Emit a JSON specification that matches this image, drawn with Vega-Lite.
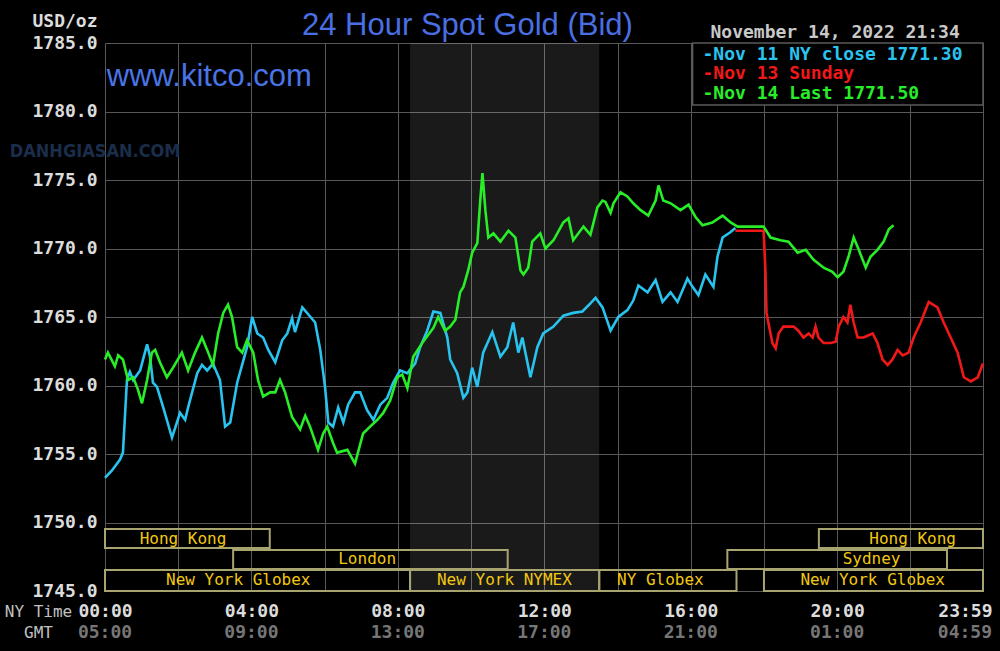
{
  "$schema": "https://vega.github.io/schema/vega-lite/v6.json",
  "width": 878,
  "height": 548,
  "autosize": "none",
  "padding": {"left": 105, "top": 43, "right": 17, "bottom": 60},
  "background": "#000000",
  "config": {"view": {"stroke": null}},
  "datasets": {
    "shade": [{"start": 8.333, "end": 13.5}],
    "notes": [
      {"k": "title", "t": "24 Hour Spot Gold (Bid)"},
      {"k": "l1", "t": "-Nov 11 NY close 1771.30"},
      {"k": "l2", "t": "-Nov 13 Sunday"},
      {"k": "l3", "t": "-Nov 14 Last 1771.50"},
      {"k": "date", "t": "November 14, 2022 21:34"},
      {"k": "site", "t": "www.kitco.com"},
      {"k": "wm", "t": "DANHGIASAN.COM"}
    ],
    "gmt": [
      {"h": 0, "t": "05:00"}, {"h": 4, "t": "09:00"}, {"h": 8, "t": "13:00"}, {"h": 12, "t": "17:00"},
      {"h": 16, "t": "21:00"}, {"h": 20, "t": "01:00"}, {"h": 23.9833, "t": "04:59"}
    ],
    "sessions": [
      {"row": 1, "name": "Hong Kong", "start": 0, "end": 4.5, "lx": 2.13},
      {"row": 1, "name": "Hong Kong", "start": 19.5, "end": 23.9833, "lx": 22.06},
      {"row": 2, "name": "London", "start": 3.5, "end": 11, "lx": 7.16},
      {"row": 2, "name": "Sydney", "start": 17, "end": 23, "lx": 20.94},
      {"row": 3, "name": "New York Globex", "start": 0, "end": 8.333, "lx": 3.64},
      {"row": 3, "name": "New York NYMEX", "start": 8.333, "end": 13.5, "lx": 10.91},
      {"row": 3, "name": "NY Globex", "start": 13.5, "end": 17.25, "lx": 15.17},
      {"row": 3, "name": "New York Globex", "start": 18, "end": 23.9833, "lx": 20.97}
    ],
    "gold": [
      {"s":"Nov 11","h":0,"v":1753.25},{"s":"Nov 11","h":0.19,"v":1753.8},{"s":"Nov 11","h":0.41,"v":1754.6},{"s":"Nov 11","h":0.49,"v":1755.1},{"s":"Nov 11","h":0.55,"v":1758},{"s":"Nov 11","h":0.6,"v":1760.4},{"s":"Nov 11","h":0.68,"v":1761},{"s":"Nov 11","h":0.77,"v":1760.4},{"s":"Nov 11","h":0.96,"v":1761.1},{"s":"Nov 11","h":1.15,"v":1763},{"s":"Nov 11","h":1.23,"v":1762.1},{"s":"Nov 11","h":1.31,"v":1760.2},{"s":"Nov 11","h":1.42,"v":1759.9},{"s":"Nov 11","h":1.59,"v":1758.4},{"s":"Nov 11","h":1.83,"v":1756.2},{"s":"Nov 11","h":2.05,"v":1758},{"s":"Nov 11","h":2.19,"v":1757.5},{"s":"Nov 11","h":2.27,"v":1758.4},{"s":"Nov 11","h":2.52,"v":1760.9},{"s":"Nov 11","h":2.65,"v":1761.5},{"s":"Nov 11","h":2.79,"v":1761.1},{"s":"Nov 11","h":2.95,"v":1761.6},{"s":"Nov 11","h":3.14,"v":1760.4},{"s":"Nov 11","h":3.28,"v":1757},{"s":"Nov 11","h":3.42,"v":1757.3},{"s":"Nov 11","h":3.61,"v":1760.2},{"s":"Nov 11","h":3.88,"v":1762.8},{"s":"Nov 11","h":4.02,"v":1765},{"s":"Nov 11","h":4.16,"v":1763.8},{"s":"Nov 11","h":4.32,"v":1763.5},{"s":"Nov 11","h":4.46,"v":1762.6},{"s":"Nov 11","h":4.65,"v":1761.7},{"s":"Nov 11","h":4.84,"v":1763.3},{"s":"Nov 11","h":4.98,"v":1763.8},{"s":"Nov 11","h":5.11,"v":1764.9},{"s":"Nov 11","h":5.19,"v":1763.9},{"s":"Nov 11","h":5.39,"v":1765.7},{"s":"Nov 11","h":5.55,"v":1765.2},{"s":"Nov 11","h":5.74,"v":1764.6},{"s":"Nov 11","h":5.88,"v":1762.6},{"s":"Nov 11","h":6.01,"v":1759.9},{"s":"Nov 11","h":6.1,"v":1757.3},{"s":"Nov 11","h":6.23,"v":1757},{"s":"Nov 11","h":6.37,"v":1758.4},{"s":"Nov 11","h":6.51,"v":1757.3},{"s":"Nov 11","h":6.64,"v":1758.6},{"s":"Nov 11","h":6.83,"v":1759.5},{"s":"Nov 11","h":6.97,"v":1759.5},{"s":"Nov 11","h":7.16,"v":1758.2},{"s":"Nov 11","h":7.33,"v":1757.5},{"s":"Nov 11","h":7.52,"v":1758.6},{"s":"Nov 11","h":7.71,"v":1759.1},{"s":"Nov 11","h":7.87,"v":1760.2},{"s":"Nov 11","h":8.06,"v":1761.1},{"s":"Nov 11","h":8.26,"v":1760.9},{"s":"Nov 11","h":8.47,"v":1761.6},{"s":"Nov 11","h":8.61,"v":1762.8},{"s":"Nov 11","h":8.8,"v":1764},{"s":"Nov 11","h":8.97,"v":1765.4},{"s":"Nov 11","h":9.16,"v":1765.3},{"s":"Nov 11","h":9.35,"v":1763.5},{"s":"Nov 11","h":9.43,"v":1761.9},{"s":"Nov 11","h":9.62,"v":1760.9},{"s":"Nov 11","h":9.79,"v":1759.1},{"s":"Nov 11","h":9.9,"v":1759.5},{"s":"Nov 11","h":10.03,"v":1761.3},{"s":"Nov 11","h":10.17,"v":1759.9},{"s":"Nov 11","h":10.33,"v":1762.4},{"s":"Nov 11","h":10.58,"v":1763.9},{"s":"Nov 11","h":10.8,"v":1762.1},{"s":"Nov 11","h":10.99,"v":1762.8},{"s":"Nov 11","h":11.15,"v":1764.6},{"s":"Nov 11","h":11.29,"v":1762.4},{"s":"Nov 11","h":11.4,"v":1763.5},{"s":"Nov 11","h":11.62,"v":1760.6},{"s":"Nov 11","h":11.81,"v":1762.8},{"s":"Nov 11","h":11.97,"v":1763.8},{"s":"Nov 11","h":12.25,"v":1764.3},{"s":"Nov 11","h":12.52,"v":1765.1},{"s":"Nov 11","h":12.79,"v":1765.3},{"s":"Nov 11","h":13.04,"v":1765.4},{"s":"Nov 11","h":13.26,"v":1766},{"s":"Nov 11","h":13.4,"v":1766.4},{"s":"Nov 11","h":13.59,"v":1765.7},{"s":"Nov 11","h":13.81,"v":1764},{"s":"Nov 11","h":14.02,"v":1765},{"s":"Nov 11","h":14.27,"v":1765.5},{"s":"Nov 11","h":14.43,"v":1766.2},{"s":"Nov 11","h":14.57,"v":1767.3},{"s":"Nov 11","h":14.82,"v":1766.8},{"s":"Nov 11","h":15.04,"v":1767.7},{"s":"Nov 11","h":15.23,"v":1766.1},{"s":"Nov 11","h":15.45,"v":1766.8},{"s":"Nov 11","h":15.64,"v":1766.1},{"s":"Nov 11","h":15.91,"v":1767.8},{"s":"Nov 11","h":16.05,"v":1767.2},{"s":"Nov 11","h":16.21,"v":1766.6},{"s":"Nov 11","h":16.4,"v":1768.1},{"s":"Nov 11","h":16.62,"v":1767.2},{"s":"Nov 11","h":16.73,"v":1769.4},{"s":"Nov 11","h":16.87,"v":1770.8},{"s":"Nov 11","h":17.09,"v":1771.2},{"s":"Nov 11","h":17.22,"v":1771.5},
      {"s":"Nov 13","h":17.22,"v":1771.3},{"s":"Nov 13","h":17.99,"v":1771.3},{"s":"Nov 13","h":18.04,"v":1768.4},{"s":"Nov 13","h":18.07,"v":1765.3},{"s":"Nov 13","h":18.12,"v":1764.6},{"s":"Nov 13","h":18.23,"v":1763.1},{"s":"Nov 13","h":18.32,"v":1762.7},{"s":"Nov 13","h":18.4,"v":1763.8},{"s":"Nov 13","h":18.53,"v":1764.3},{"s":"Nov 13","h":18.81,"v":1764.3},{"s":"Nov 13","h":18.94,"v":1764},{"s":"Nov 13","h":19.08,"v":1763.5},{"s":"Nov 13","h":19.22,"v":1763.8},{"s":"Nov 13","h":19.33,"v":1763.5},{"s":"Nov 13","h":19.41,"v":1764.3},{"s":"Nov 13","h":19.49,"v":1763.5},{"s":"Nov 13","h":19.63,"v":1763.1},{"s":"Nov 13","h":19.82,"v":1763.1},{"s":"Nov 13","h":19.96,"v":1763.2},{"s":"Nov 13","h":20.04,"v":1764.3},{"s":"Nov 13","h":20.17,"v":1765},{"s":"Nov 13","h":20.28,"v":1764.6},{"s":"Nov 13","h":20.36,"v":1765.9},{"s":"Nov 13","h":20.45,"v":1764.6},{"s":"Nov 13","h":20.56,"v":1763.5},{"s":"Nov 13","h":20.72,"v":1763.5},{"s":"Nov 13","h":20.97,"v":1763.8},{"s":"Nov 13","h":21.1,"v":1763.1},{"s":"Nov 13","h":21.24,"v":1761.9},{"s":"Nov 13","h":21.38,"v":1761.5},{"s":"Nov 13","h":21.51,"v":1761.9},{"s":"Nov 13","h":21.65,"v":1762.6},{"s":"Nov 13","h":21.79,"v":1762.2},{"s":"Nov 13","h":21.95,"v":1762.4},{"s":"Nov 13","h":22.09,"v":1763.5},{"s":"Nov 13","h":22.28,"v":1764.6},{"s":"Nov 13","h":22.5,"v":1766.1},{"s":"Nov 13","h":22.74,"v":1765.7},{"s":"Nov 13","h":22.91,"v":1764.6},{"s":"Nov 13","h":23.1,"v":1763.5},{"s":"Nov 13","h":23.29,"v":1762.4},{"s":"Nov 13","h":23.46,"v":1760.6},{"s":"Nov 13","h":23.65,"v":1760.3},{"s":"Nov 13","h":23.84,"v":1760.6},{"s":"Nov 13","h":23.98,"v":1761.6},
      {"s":"Nov 14","h":0,"v":1761.9},{"s":"Nov 14","h":0.08,"v":1762.4},{"s":"Nov 14","h":0.27,"v":1761.4},{"s":"Nov 14","h":0.36,"v":1762.2},{"s":"Nov 14","h":0.49,"v":1761.9},{"s":"Nov 14","h":0.63,"v":1760.4},{"s":"Nov 14","h":0.77,"v":1760.6},{"s":"Nov 14","h":0.9,"v":1759.7},{"s":"Nov 14","h":1.01,"v":1758.7},{"s":"Nov 14","h":1.15,"v":1760.4},{"s":"Nov 14","h":1.28,"v":1762.4},{"s":"Nov 14","h":1.37,"v":1762.6},{"s":"Nov 14","h":1.5,"v":1761.7},{"s":"Nov 14","h":1.69,"v":1760.6},{"s":"Nov 14","h":1.86,"v":1761.3},{"s":"Nov 14","h":2.1,"v":1762.4},{"s":"Nov 14","h":2.27,"v":1761.1},{"s":"Nov 14","h":2.46,"v":1762.4},{"s":"Nov 14","h":2.65,"v":1763.5},{"s":"Nov 14","h":2.79,"v":1762.6},{"s":"Nov 14","h":2.95,"v":1761.5},{"s":"Nov 14","h":3.09,"v":1763.8},{"s":"Nov 14","h":3.23,"v":1765.3},{"s":"Nov 14","h":3.36,"v":1765.9},{"s":"Nov 14","h":3.47,"v":1765},{"s":"Nov 14","h":3.61,"v":1762.8},{"s":"Nov 14","h":3.75,"v":1762.4},{"s":"Nov 14","h":3.88,"v":1763.3},{"s":"Nov 14","h":4.05,"v":1762.4},{"s":"Nov 14","h":4.18,"v":1760.4},{"s":"Nov 14","h":4.32,"v":1759.2},{"s":"Nov 14","h":4.51,"v":1759.5},{"s":"Nov 14","h":4.65,"v":1759.5},{"s":"Nov 14","h":4.78,"v":1760.4},{"s":"Nov 14","h":4.92,"v":1759.5},{"s":"Nov 14","h":5.11,"v":1757.7},{"s":"Nov 14","h":5.33,"v":1756.8},{"s":"Nov 14","h":5.47,"v":1757.8},{"s":"Nov 14","h":5.6,"v":1757},{"s":"Nov 14","h":5.82,"v":1755.3},{"s":"Nov 14","h":5.96,"v":1756.5},{"s":"Nov 14","h":6.07,"v":1757},{"s":"Nov 14","h":6.23,"v":1755.8},{"s":"Nov 14","h":6.34,"v":1755.1},{"s":"Nov 14","h":6.62,"v":1755.3},{"s":"Nov 14","h":6.83,"v":1754.3},{"s":"Nov 14","h":7.05,"v":1756.5},{"s":"Nov 14","h":7.24,"v":1757},{"s":"Nov 14","h":7.44,"v":1757.5},{"s":"Nov 14","h":7.6,"v":1758},{"s":"Nov 14","h":7.79,"v":1758.9},{"s":"Nov 14","h":7.98,"v":1760.6},{"s":"Nov 14","h":8.12,"v":1760.8},{"s":"Nov 14","h":8.26,"v":1759.8},{"s":"Nov 14","h":8.42,"v":1762.1},{"s":"Nov 14","h":8.69,"v":1763.2},{"s":"Nov 14","h":8.97,"v":1764.2},{"s":"Nov 14","h":9.1,"v":1765},{"s":"Nov 14","h":9.29,"v":1764},{"s":"Nov 14","h":9.43,"v":1764.3},{"s":"Nov 14","h":9.57,"v":1764.8},{"s":"Nov 14","h":9.7,"v":1766.8},{"s":"Nov 14","h":9.79,"v":1767.2},{"s":"Nov 14","h":9.92,"v":1768.4},{"s":"Nov 14","h":10.03,"v":1769.7},{"s":"Nov 14","h":10.17,"v":1770.4},{"s":"Nov 14","h":10.25,"v":1773.5},{"s":"Nov 14","h":10.31,"v":1775.5},{"s":"Nov 14","h":10.39,"v":1772.8},{"s":"Nov 14","h":10.47,"v":1770.8},{"s":"Nov 14","h":10.61,"v":1771.1},{"s":"Nov 14","h":10.8,"v":1770.5},{"s":"Nov 14","h":11.02,"v":1771.3},{"s":"Nov 14","h":11.21,"v":1770.8},{"s":"Nov 14","h":11.35,"v":1768.4},{"s":"Nov 14","h":11.43,"v":1768.1},{"s":"Nov 14","h":11.56,"v":1768.6},{"s":"Nov 14","h":11.67,"v":1770.5},{"s":"Nov 14","h":11.89,"v":1771.1},{"s":"Nov 14","h":12.03,"v":1770},{"s":"Nov 14","h":12.25,"v":1770.6},{"s":"Nov 14","h":12.52,"v":1771.9},{"s":"Nov 14","h":12.66,"v":1772.2},{"s":"Nov 14","h":12.79,"v":1770.6},{"s":"Nov 14","h":13.07,"v":1771.6},{"s":"Nov 14","h":13.26,"v":1771},{"s":"Nov 14","h":13.45,"v":1773},{"s":"Nov 14","h":13.59,"v":1773.5},{"s":"Nov 14","h":13.67,"v":1773.4},{"s":"Nov 14","h":13.81,"v":1772.6},{"s":"Nov 14","h":13.89,"v":1773.3},{"s":"Nov 14","h":14.08,"v":1774.1},{"s":"Nov 14","h":14.27,"v":1773.8},{"s":"Nov 14","h":14.43,"v":1773.3},{"s":"Nov 14","h":14.63,"v":1772.8},{"s":"Nov 14","h":14.84,"v":1772.4},{"s":"Nov 14","h":15.04,"v":1773.5},{"s":"Nov 14","h":15.12,"v":1774.6},{"s":"Nov 14","h":15.25,"v":1773.5},{"s":"Nov 14","h":15.45,"v":1773.3},{"s":"Nov 14","h":15.72,"v":1772.8},{"s":"Nov 14","h":15.94,"v":1773.2},{"s":"Nov 14","h":16.13,"v":1772.3},{"s":"Nov 14","h":16.32,"v":1771.7},{"s":"Nov 14","h":16.59,"v":1771.9},{"s":"Nov 14","h":16.87,"v":1772.4},{"s":"Nov 14","h":17.09,"v":1771.9},{"s":"Nov 14","h":17.28,"v":1771.6},{"s":"Nov 14","h":17.99,"v":1771.6},{"s":"Nov 14","h":18.18,"v":1770.8},{"s":"Nov 14","h":18.45,"v":1770.6},{"s":"Nov 14","h":18.67,"v":1770.5},{"s":"Nov 14","h":18.92,"v":1769.7},{"s":"Nov 14","h":19.14,"v":1769.9},{"s":"Nov 14","h":19.35,"v":1769.2},{"s":"Nov 14","h":19.63,"v":1768.6},{"s":"Nov 14","h":19.87,"v":1768.3},{"s":"Nov 14","h":20.01,"v":1767.9},{"s":"Nov 14","h":20.17,"v":1768.3},{"s":"Nov 14","h":20.31,"v":1769.4},{"s":"Nov 14","h":20.45,"v":1770.8},{"s":"Nov 14","h":20.59,"v":1769.9},{"s":"Nov 14","h":20.78,"v":1768.6},{"s":"Nov 14","h":20.91,"v":1769.4},{"s":"Nov 14","h":21.1,"v":1769.9},{"s":"Nov 14","h":21.27,"v":1770.5},{"s":"Nov 14","h":21.41,"v":1771.4},{"s":"Nov 14","h":21.54,"v":1771.7}
    ]
  },
  "layer": [
    {
      "data": {"name": "shade"},
      "mark": {"type": "rect", "color": "#ffffff", "opacity": 0.1},
      "encoding": {
        "x": {"field": "start", "type": "quantitative"},
        "x2": {"field": "end"}
      }
    },
    {
      "data": {"name": "sessions"},
      "transform": [{"filter": "datum.row == 1"}],
      "mark": {"type": "rect", "fill": "#000000", "fillOpacity": 0, "stroke": "#a8a470", "strokeWidth": 2},
      "encoding": {
        "x": {"field": "start", "type": "quantitative"},
        "x2": {"field": "end"},
        "y": {"datum": 1749.53, "type": "quantitative"},
        "y2": {"datum": 1748.14}
      }
    },
    {
      "data": {"name": "sessions"},
      "transform": [{"filter": "datum.row == 2"}],
      "mark": {"type": "rect", "fill": "#000000", "fillOpacity": 0, "stroke": "#a8a470", "strokeWidth": 2},
      "encoding": {
        "x": {"field": "start", "type": "quantitative"},
        "x2": {"field": "end"},
        "y": {"datum": 1748.0, "type": "quantitative"},
        "y2": {"datum": 1746.6}
      }
    },
    {
      "data": {"name": "sessions"},
      "transform": [{"filter": "datum.row == 3"}],
      "mark": {"type": "rect", "fill": "#000000", "fillOpacity": 0, "stroke": "#a8a470", "strokeWidth": 2},
      "encoding": {
        "x": {"field": "start", "type": "quantitative"},
        "x2": {"field": "end"},
        "y": {"datum": 1746.53, "type": "quantitative"},
        "y2": {"datum": 1745.0}
      }
    },
    {
      "data": {"name": "sessions"},
      "transform": [{"filter": "datum.row == 1"}],
      "mark": {"type": "text", "font": "DejaVu Sans Mono", "fontSize": 16, "color": "#f2c811", "align": "center", "baseline": "middle"},
      "encoding": {
        "x": {"field": "lx", "type": "quantitative"},
        "y": {"datum": 1748.83, "type": "quantitative"},
        "text": {"field": "name"}
      }
    },
    {
      "data": {"name": "sessions"},
      "transform": [{"filter": "datum.row == 2"}],
      "mark": {"type": "text", "font": "DejaVu Sans Mono", "fontSize": 16, "color": "#f2c811", "align": "center", "baseline": "middle"},
      "encoding": {
        "x": {"field": "lx", "type": "quantitative"},
        "y": {"datum": 1747.3, "type": "quantitative"},
        "text": {"field": "name"}
      }
    },
    {
      "data": {"name": "sessions"},
      "transform": [{"filter": "datum.row == 3"}],
      "mark": {"type": "text", "font": "DejaVu Sans Mono", "fontSize": 16, "color": "#f2c811", "align": "center", "baseline": "middle"},
      "encoding": {
        "x": {"field": "lx", "type": "quantitative"},
        "y": {"datum": 1745.8, "type": "quantitative"},
        "text": {"field": "name"}
      }
    },
    {
      "data": {"name": "gold"},
      "mark": {"type": "line", "strokeWidth": 2.6},
      "encoding": {
        "x": {"field": "h", "type": "quantitative", "scale": {"domain": [0, 23.9833], "nice": false, "zero": false},
          "axis": {"values": [0, 2, 4, 6, 8, 10, 12, 14, 16, 18, 20, 22, 23.9833], "grid": true, "gridColor": "#585858", "gridWidth": 1,
            "ticks": false, "domain": false, "labelOverlap": false,
            "labelExpr": "datum.value > 23.9 ? '23:59' : (datum.value % 4 == 0 ? (datum.value < 10 ? '0' : '') + datum.value + ':00' : '')",
            "labelPadding": 11, "labelFont": "DejaVu Sans Mono", "labelFontWeight": "bold", "labelFontSize": 18, "labelColor": "#dcdcdc",
            "labelAlign": {"condition": {"test": "datum.value > 23.9", "value": "right"}, "value": "center"},
            "labelOffset": {"condition": {"test": "datum.value > 23.9", "value": 9}, "value": 0},
            "title": ["NY Time", "GMT"], "titleX": -67, "titleY": 25, "titleAlign": "center", "titleBaseline": "alphabetic", "titleAngle": 0, "titleLineHeight": 21,
            "titleFont": "DejaVu Sans Mono", "titleFontWeight": "normal", "titleFontSize": 16, "titleColor": "#c0c0c0"}},
        "y": {"field": "v", "type": "quantitative", "scale": {"domain": [1745, 1785], "nice": false, "zero": false},
          "axis": {"values": [1745, 1750, 1755, 1760, 1765, 1770, 1775, 1780, 1785], "format": ".1f", "grid": true, "gridColor": "#585858", "gridWidth": 1,
            "ticks": false, "domain": false, "labelOverlap": false, "labelPadding": 8,
            "labelFont": "DejaVu Sans Mono", "labelFontWeight": "bold", "labelFontSize": 18, "labelColor": "#dcdcdc",
            "title": "USD/oz", "titleAngle": 0, "titleAlign": "left", "titleBaseline": "alphabetic", "titleX": -73, "titleY": -17,
            "titleFont": "DejaVu Sans Mono", "titleFontWeight": "bold", "titleFontSize": 18, "titleColor": "#dcdcdc"}},
        "color": {"field": "s", "type": "nominal", "scale": {"domain": ["Nov 11", "Nov 13", "Nov 14"], "range": ["#29c3ef", "#f01818", "#28ee28"]}, "legend": null}
      }
    },
    {
      "data": {"name": "notes"},
      "transform": [{"filter": "datum.k == 'l1'"}],
      "mark": {"type": "rect", "fill": "#000000", "stroke": "#5a5a5a", "strokeWidth": 1.5},
      "encoding": {
        "x": {"datum": 16.05, "type": "quantitative"},
        "x2": {"datum": 23.9833},
        "y": {"datum": 1785, "type": "quantitative"},
        "y2": {"datum": 1780.47}
      }
    },
    {
      "data": {"name": "gmt"},
      "transform": [{"filter": "datum.h < 23.9"}],
      "mark": {"type": "text", "font": "DejaVu Sans Mono", "fontWeight": "bold", "fontSize": 18, "color": "#767676", "align": "center", "baseline": "top"},
      "encoding": {
        "x": {"field": "h", "type": "quantitative"},
        "y": {"datum": 1742.6, "type": "quantitative"},
        "text": {"field": "t"}
      }
    },
    {
      "data": {"name": "gmt"},
      "transform": [{"filter": "datum.h > 23.9"}],
      "mark": {"type": "text", "font": "DejaVu Sans Mono", "fontWeight": "bold", "fontSize": 18, "color": "#767676", "align": "right", "baseline": "top", "dx": 9},
      "encoding": {
        "x": {"field": "h", "type": "quantitative"},
        "y": {"datum": 1742.6, "type": "quantitative"},
        "text": {"field": "t"}
      }
    },
    {
      "data": {"name": "notes"},
      "transform": [{"filter": "datum.k == 'l1'"}],
      "mark": {"type": "text", "font": "DejaVu Sans Mono", "fontWeight": "bold", "fontSize": 18, "color": "#29c3ef", "align": "left", "baseline": "alphabetic"},
      "encoding": {
        "x": {"datum": 16.32, "type": "quantitative"},
        "y": {"datum": 1783.76, "type": "quantitative"},
        "text": {"field": "t"}
      }
    },
    {
      "data": {"name": "notes"},
      "transform": [{"filter": "datum.k == 'l2'"}],
      "mark": {"type": "text", "font": "DejaVu Sans Mono", "fontWeight": "bold", "fontSize": 18, "color": "#f01818", "align": "left", "baseline": "alphabetic"},
      "encoding": {
        "x": {"datum": 16.32, "type": "quantitative"},
        "y": {"datum": 1782.37, "type": "quantitative"},
        "text": {"field": "t"}
      }
    },
    {
      "data": {"name": "notes"},
      "transform": [{"filter": "datum.k == 'l3'"}],
      "mark": {"type": "text", "font": "DejaVu Sans Mono", "fontWeight": "bold", "fontSize": 18, "color": "#28ee28", "align": "left", "baseline": "alphabetic"},
      "encoding": {
        "x": {"datum": 16.32, "type": "quantitative"},
        "y": {"datum": 1780.9, "type": "quantitative"},
        "text": {"field": "t"}
      }
    },
    {
      "data": {"name": "notes"},
      "transform": [{"filter": "datum.k == 'date'"}],
      "mark": {"type": "text", "font": "DejaVu Sans Mono", "fontWeight": "bold", "fontSize": 18, "color": "#c8c8c8", "align": "left", "baseline": "alphabetic"},
      "encoding": {
        "x": {"datum": 16.54, "type": "quantitative"},
        "y": {"datum": 1785.36, "type": "quantitative"},
        "text": {"field": "t"}
      }
    },
    {
      "data": {"name": "notes"},
      "transform": [{"filter": "datum.k == 'site'"}],
      "mark": {"type": "text", "font": "Liberation Sans", "fontSize": 31, "color": "#4a74e6", "align": "left", "baseline": "alphabetic"},
      "encoding": {
        "x": {"datum": 0.05, "type": "quantitative"},
        "y": {"datum": 1781.86, "type": "quantitative"},
        "text": {"field": "t"}
      }
    },
    {
      "data": {"name": "notes"},
      "transform": [{"filter": "datum.k == 'wm'"}],
      "mark": {"type": "text", "font": "DejaVu Sans Condensed", "fontWeight": "bold", "fontSize": 18, "color": "#1a2d4a", "align": "left", "baseline": "middle"},
      "encoding": {
        "x": {"datum": -2.6, "type": "quantitative"},
        "y": {"datum": 1777.04, "type": "quantitative"},
        "text": {"field": "t"}
      }
    },
    {
      "data": {"name": "notes"},
      "transform": [{"filter": "datum.k == 'title'"}],
      "mark": {"type": "text", "font": "Liberation Sans", "fontSize": 31, "color": "#4a6fe3", "align": "center", "baseline": "alphabetic"},
      "encoding": {
        "x": {"datum": 9.9, "type": "quantitative"},
        "y": {"datum": 1785.58, "type": "quantitative"},
        "text": {"field": "t"}
      }
    }
  ]
}
